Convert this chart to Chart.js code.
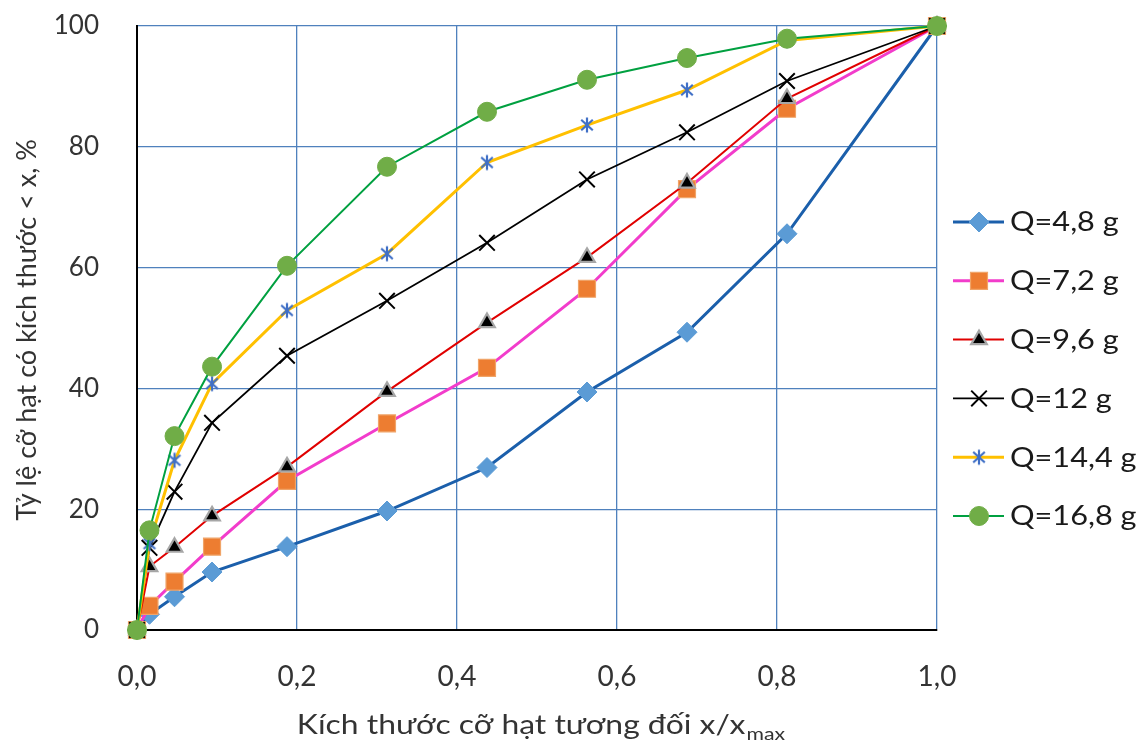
<!DOCTYPE html>
<html>
<head>
<meta charset="utf-8">
<script src="https://cdn.jsdelivr.net/npm/chart.js@4.4.1/dist/chart.umd.min.js"></script>
<style>
  html, body { margin: 0; padding: 0; background: #ffffff; }
  #wrap { width: 1146px; height: 745px; position: relative; }
</style>
</head>
<body>
<div id="wrap"><canvas id="chart" width="1146" height="745"></canvas></div>
<script>
// Relative particle size x/xmax and cumulative passing (%) for each charge mass Q
const sizeRatio = [0, 0.0156, 0.0469, 0.0938, 0.1875, 0.3125, 0.4375, 0.5625, 0.6875, 0.8125, 1.0];
const passQ48  = [0, 2.6, 5.5, 9.6, 13.8, 19.7, 26.9, 39.4, 49.3, 65.6, 100];
const passQ72  = [0, 4.0, 8.0, 13.8, 24.7, 34.2, 43.4, 56.5, 73.0, 86.3, 100];
const passQ96  = [0, 10.5, 13.7, 18.9, 27.0, 39.5, 50.9, 61.7, 74.0, 88.0, 100];
const passQ12  = [0, 13.6, 22.9, 34.3, 45.4, 54.5, 64.1, 74.6, 82.4, 90.9, 100];
const passQ144 = [0, 14.3, 28.1, 40.8, 52.9, 62.3, 77.4, 83.6, 89.4, 97.6, 100];
const passQ168 = [0, 16.5, 32.1, 43.6, 60.3, 76.7, 85.8, 91.1, 94.7, 97.9, 100];
const seriesLabels = ['Q=4,8 g', 'Q=7,2 g', 'Q=9,6 g', 'Q=12 g', 'Q=14,4 g', 'Q=16,8 g'];
const xTitleMain = 'Kích thước cỡ hạt tương đối x/x';
const xTitleSub = 'max';
const yTitle = 'Tỷ lệ cỡ hạt có kích thước < x, %';

const FONT = 'Lato, "Open Sans", sans-serif';
const TEXT = '#333333';
const GRID = '#4f81bd';
const WIDE = 1.18;   // horizontal stretch for the legend and x-axis title text

// Asterisk marker: an X with a vertical stroke
function makeAsterisk(color) {
  const c = document.createElement('canvas');
  c.width = 18; c.height = 18;
  const g = c.getContext('2d');
  g.strokeStyle = color; g.lineWidth = 2.2; g.lineCap = 'butt';
  g.beginPath();
  g.moveTo(9, 1.5); g.lineTo(9, 16.5);
  g.moveTo(3.2, 3.8); g.lineTo(14.8, 14.2);
  g.moveTo(14.8, 3.8); g.lineTo(3.2, 14.2);
  g.stroke();
  return c;
}
const asterisk = makeAsterisk('#3f6fc6');

function pts(ys) { return sizeRatio.map((x, i) => ({ x: x, y: ys[i] })); }

const datasets = [
  { label: seriesLabels[0], data: pts(passQ48), borderColor: '#1b5fab', borderWidth: 3,
    pointStyle: 'rectRot', pointRadius: 10, pointBackgroundColor: '#5b9bd5', pointBorderColor: '#5b9bd5', pointBorderWidth: 1, order: 5 },
  { label: seriesLabels[1], data: pts(passQ72), borderColor: '#f23ccb', borderWidth: 3,
    pointStyle: 'rect', pointRadius: 12, pointBackgroundColor: '#ed7d31', pointBorderColor: '#f0a468', pointBorderWidth: 1.2, order: 4 },
  { label: seriesLabels[2], data: pts(passQ96), borderColor: '#e00000', borderWidth: 2,
    pointStyle: 'triangle', pointRadius: 9, pointBackgroundColor: '#000000', pointBorderColor: '#a6a6a6', pointBorderWidth: 2.2, order: 3 },
  { label: seriesLabels[3], data: pts(passQ12), borderColor: '#000000', borderWidth: 1.8,
    pointStyle: 'crossRot', pointRadius: 11, pointBackgroundColor: '#000000', pointBorderColor: '#000000', pointBorderWidth: 2, order: 2 },
  { label: seriesLabels[4], data: pts(passQ144), borderColor: '#ffc000', borderWidth: 3,
    pointStyle: asterisk, pointRadius: 9, pointBackgroundColor: '#3f6fc6', pointBorderColor: '#3f6fc6', pointBorderWidth: 1, order: 1 },
  { label: seriesLabels[5], data: pts(passQ168), borderColor: '#00a040', borderWidth: 2,
    pointStyle: 'circle', pointRadius: 9.5, pointBackgroundColor: '#70ad47', pointBorderColor: '#70ad47', pointBorderWidth: 1, order: 0 }
].map(d => Object.assign({ tension: 0, fill: false, clip: false, pointHoverRadius: d.pointRadius }, d));

// Legend on the right: line sample with marker, then label
const sideLegend = {
  id: 'sideLegend',
  afterDraw(chart) {
    const ctx = chart.ctx;
    const x0 = 953, x1 = 1004, xm = 979, xt = 1010, top = 222, step = 58.8;
    chart.data.datasets.forEach((ds, i) => {
      const y = top + i * step;
      ctx.save();
      ctx.strokeStyle = ds.borderColor;
      ctx.lineWidth = ds.borderWidth;
      ctx.beginPath(); ctx.moveTo(x0, y); ctx.lineTo(x1, y); ctx.stroke();
      ctx.fillStyle = ds.pointBackgroundColor;
      ctx.strokeStyle = ds.pointBorderColor;
      ctx.lineWidth = ds.pointBorderWidth;
      Chart.helpers.drawPoint(ctx, { pointStyle: ds.pointStyle, radius: ds.pointRadius, borderWidth: ds.pointBorderWidth, rotation: 0 }, xm, y);
      ctx.translate(xt, y + 1);
      ctx.scale(WIDE, 1);
      ctx.fillStyle = '#1a1a1a';
      ctx.font = '26px ' + FONT;
      ctx.textAlign = 'left';
      ctx.textBaseline = 'middle';
      ctx.fillText(ds.label, 0, 0);
      ctx.restore();
    });
  }
};

// Axis titles: x title carries a subscript, y title is rotated along the axis
const axisTitles = {
  id: 'axisTitles',
  afterDraw(chart) {
    const ctx = chart.ctx;
    const area = chart.chartArea;
    ctx.save();
    ctx.fillStyle = TEXT;
    ctx.textBaseline = 'alphabetic';
    ctx.textAlign = 'left';
    ctx.font = '27px ' + FONT;
    const wMain = ctx.measureText(xTitleMain).width;
    ctx.font = '18px ' + FONT;
    const wSub = ctx.measureText(xTitleSub).width;
    const cx = (area.left + area.right) / 2 + 4;
    ctx.translate(cx, 0);
    ctx.scale(WIDE, 1);
    const start = -(wMain + wSub + 1) / 2;
    ctx.font = '27px ' + FONT;
    ctx.fillText(xTitleMain, start, 734);
    ctx.font = '18px ' + FONT;
    ctx.fillText(xTitleSub, start + wMain + 1, 740);
    ctx.restore();

    ctx.save();
    ctx.fillStyle = TEXT;
    ctx.font = '27px ' + FONT;
    ctx.textAlign = 'center';
    ctx.textBaseline = 'alphabetic';
    ctx.translate(36, (area.top + area.bottom) / 2 + 2);
    ctx.rotate(-Math.PI / 2);
    ctx.fillText(yTitle, 0, 0);
    ctx.restore();
  }
};

const hideAtZero = ctx => (ctx.tick && ctx.tick.value === 0) ? 'rgba(0,0,0,0)' : GRID;

new Chart(document.getElementById('chart'), {
  type: 'line',
  data: { datasets: datasets },
  options: {
    responsive: false,
    animation: false,
    events: [],
    layout: { padding: { top: 26, right: 209, left: 0, bottom: 0 } },
    plugins: { legend: { display: false }, tooltip: { enabled: false } },
    scales: {
      x: {
        type: 'linear', min: 0, max: 1,
        ticks: { stepSize: 0.2, padding: 30, color: TEXT, font: { family: FONT, size: 28 },
                 callback: v => Number(v).toFixed(1).replace('.', ',') },
        grid: { color: hideAtZero, lineWidth: 1.3, drawTicks: false },
        border: { color: '#000000', width: 2 },
        afterFit: s => { s.height = 115; s.paddingLeft = 0; s.paddingRight = 0; }
      },
      y: {
        type: 'linear', min: 0, max: 100,
        ticks: { stepSize: 20, padding: 38, color: TEXT, font: { family: FONT, size: 26 } },
        grid: { color: hideAtZero, lineWidth: 1.3, drawTicks: false },
        border: { color: '#000000', width: 2 },
        afterFit: s => { s.width = 137; s.paddingTop = 0; s.paddingBottom = 0; }
      }
    }
  },
  plugins: [sideLegend, axisTitles]
});
</script>
</body>
</html>
